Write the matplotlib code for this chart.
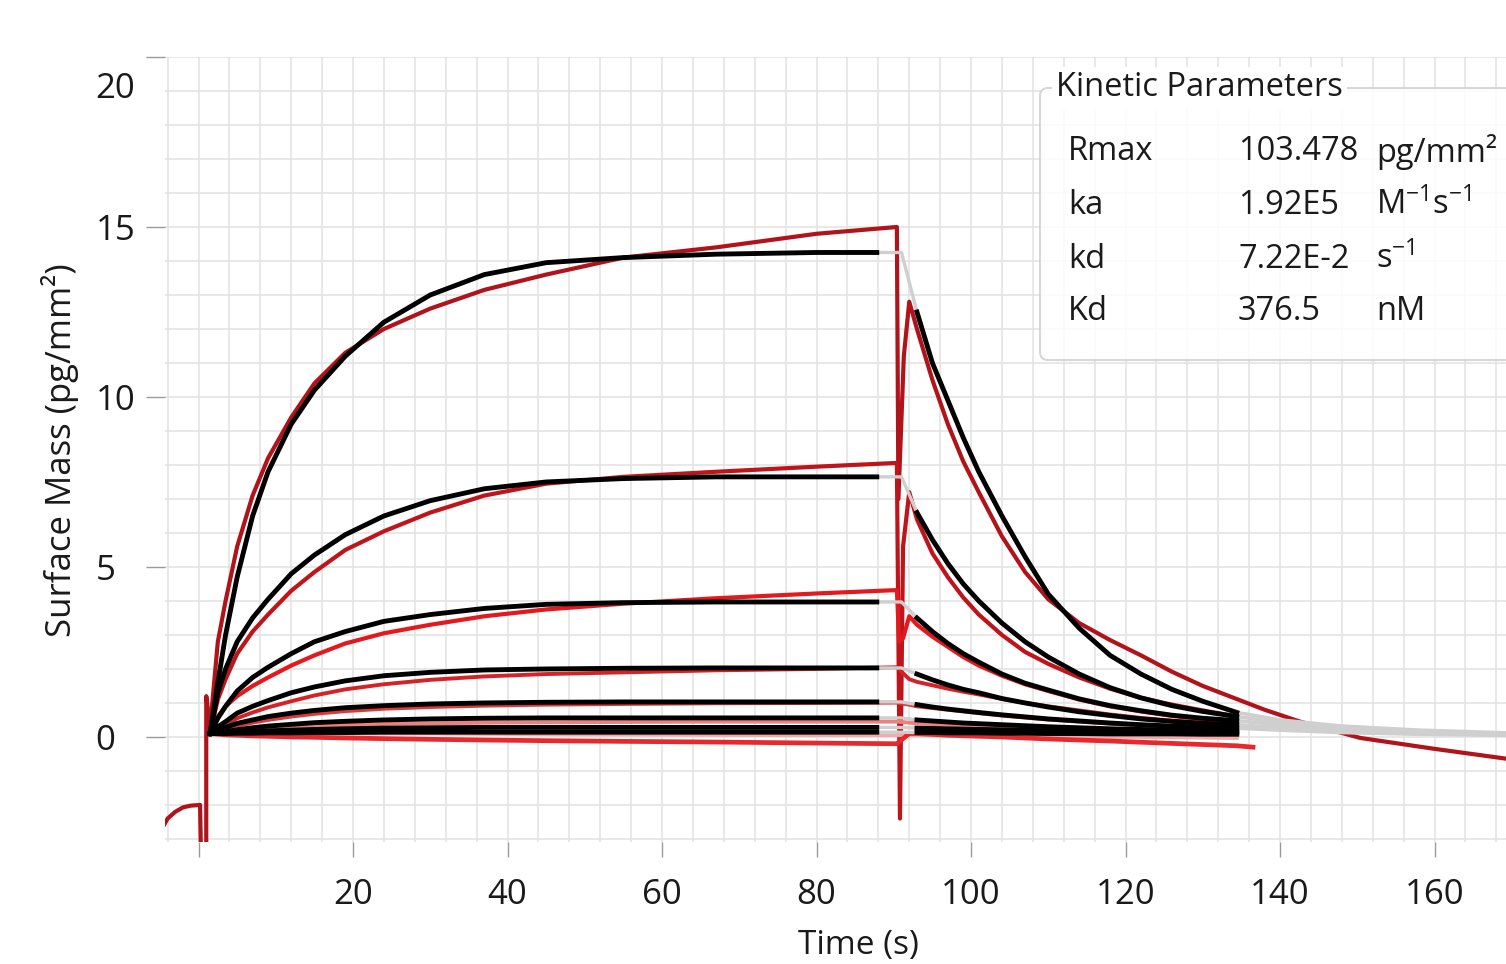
import matplotlib

matplotlib.use("Agg")

import matplotlib.pyplot as plt
from matplotlib.patches import FancyBboxPatch
from matplotlib.transforms import Affine2D, ScaledTranslation

plt.rcParams["font.family"] = ["Open Sans", "DejaVu Sans"]
plt.rcParams["mathtext.fontset"] = "custom"
plt.rcParams["mathtext.rm"] = "Open Sans"
plt.rcParams["mathtext.default"] = "regular"

# ---- fitted curves (black), association phase ----
fit_t_on = [1.5, 2.5, 3.5, 5, 7, 9, 12, 15, 19, 24, 30, 37, 45, 55, 67, 80, 87.8]
fit1_on = [0.1, 1.6, 3.0, 4.7, 6.5, 7.8, 9.2, 10.2, 11.2, 12.2, 13.0, 13.6, 13.95, 14.1, 14.2, 14.25, 14.25]
fit2_on = [0.1, 1.3, 2.0, 2.8, 3.5, 4.05, 4.8, 5.35, 5.95, 6.5, 6.95, 7.3, 7.5, 7.6, 7.65, 7.65, 7.65]
fit3_on = [0.1, 0.55, 0.9, 1.35, 1.75, 2.05, 2.45, 2.8, 3.1, 3.4, 3.6, 3.78, 3.9, 3.95, 3.97, 3.97, 3.97]
fit4_on = [0.1, 0.3, 0.45, 0.7, 0.9, 1.07, 1.3, 1.47, 1.65, 1.8, 1.9, 1.97, 2.0, 2.02, 2.03, 2.03, 2.03]
fit5_on = [0.1, 0.2, 0.28, 0.4, 0.5, 0.6, 0.7, 0.78, 0.86, 0.92, 0.97, 1.0, 1.02, 1.03, 1.03, 1.03, 1.03]
fit6_on = [0.1, 0.13, 0.16, 0.21, 0.27, 0.32, 0.37, 0.42, 0.46, 0.5, 0.53, 0.55, 0.56, 0.56, 0.56, 0.56, 0.56]
fit7_on = [0.1, 0.11, 0.12, 0.14, 0.16, 0.18, 0.2, 0.22, 0.24, 0.26, 0.27, 0.28, 0.28, 0.28, 0.28, 0.28, 0.28]
fit8_on = [0.1, 0.1, 0.1, 0.11, 0.11, 0.12, 0.12, 0.13, 0.13, 0.14, 0.14, 0.14, 0.14, 0.14, 0.14, 0.14, 0.14]

# ---- fitted curves (black), dissociation phase ----
fit_t_off = [93, 95, 97, 99, 101, 104, 107, 110, 114, 118, 122, 126, 130, 134.4]
fit1_off = [12.5, 11.0, 9.9, 8.8, 7.8, 6.5, 5.3, 4.2, 3.2, 2.4, 1.85, 1.4, 1.05, 0.72]
fit2_off = [6.6, 5.8, 5.1, 4.5, 4.0, 3.35, 2.8, 2.35, 1.85, 1.45, 1.15, 0.92, 0.75, 0.6]
fit3_off = [3.5, 3.1, 2.75, 2.45, 2.2, 1.85, 1.58, 1.38, 1.12, 0.92, 0.77, 0.64, 0.55, 0.48]
fit4_off = [1.85, 1.68, 1.53, 1.4, 1.3, 1.13, 1.0, 0.88, 0.74, 0.63, 0.53, 0.46, 0.4, 0.36]
fit5_off = [0.95, 0.88, 0.82, 0.77, 0.72, 0.65, 0.59, 0.53, 0.47, 0.41, 0.36, 0.32, 0.29, 0.26]
fit6_off = [0.5, 0.47, 0.44, 0.41, 0.39, 0.36, 0.33, 0.3, 0.27, 0.24, 0.22, 0.2, 0.19, 0.17]
fit7_off = [0.26, 0.25, 0.24, 0.23, 0.22, 0.21, 0.2, 0.18, 0.17, 0.16, 0.15, 0.14, 0.13, 0.12]
fit8_off = [0.13, 0.13, 0.12, 0.12, 0.12, 0.11, 0.11, 0.1, 0.1, 0.09, 0.09, 0.09, 0.08, 0.08]

# ---- model outside the fit windows (gray) ----
switch_t = 91.0
tail_t = [134.4, 140, 148, 158, 169.3]
tail1 = [0.72, 0.5, 0.32, 0.2, 0.12]
tail2 = [0.6, 0.42, 0.27, 0.16, 0.1]
tail3 = [0.48, 0.35, 0.23, 0.14, 0.08]
tail4 = [0.36, 0.27, 0.18, 0.11, 0.06]
tail5 = [0.26, 0.2, 0.13, 0.08, 0.05]

# ---- measured sensorgrams (reds) ----
pre_t = [-4.8, -4, -3, -2, -1, 0.2, 0.3, 1.0, 1.0, 1.5]
pre_y = [-2.72, -2.4, -2.2, -2.07, -2.02, -2.0, -3.3, -3.3, 1.2, 0.3]

raw_t_on = [1.5, 2.5, 3.5, 5, 7, 9, 12, 15, 19, 24, 30, 37, 45, 55, 67, 80, 90.4]
raw1_on = [0.3, 2.8, 4.0, 5.6, 7.1, 8.2, 9.4, 10.4, 11.3, 12.0, 12.6, 13.15, 13.6, 14.1, 14.4, 14.8, 15.0]
raw2_on = [0.15, 1.1, 1.7, 2.45, 3.1, 3.6, 4.3, 4.85, 5.5, 6.05, 6.6, 7.1, 7.45, 7.65, 7.8, 7.95, 8.06]
raw3_on = [0.15, 0.6, 0.9, 1.2, 1.5, 1.75, 2.1, 2.4, 2.75, 3.05, 3.3, 3.55, 3.75, 3.92, 4.08, 4.22, 4.32]
raw4_on = [0.1, 0.25, 0.38, 0.55, 0.72, 0.87, 1.05, 1.22, 1.4, 1.55, 1.68, 1.78, 1.85, 1.9, 1.96, 2.0, 2.05]
raw5_on = [0.1, 0.15, 0.22, 0.32, 0.42, 0.5, 0.6, 0.68, 0.76, 0.83, 0.88, 0.92, 0.95, 0.97, 0.99, 1.0, 1.01]
raw6_on = [0.1, 0.12, 0.15, 0.18, 0.22, 0.25, 0.29, 0.32, 0.35, 0.38, 0.4, 0.42, 0.43, 0.44, 0.45, 0.45, 0.45]
raw7_on = [0.1, 0.1, 0.1, 0.1, 0.1, 0.1, 0.1, 0.1, 0.1, 0.1, 0.1, 0.09, 0.08, 0.07, 0.06, 0.05, 0.05]
raw8_on = [0.1, 0.08, 0.06, 0.05, 0.03, 0.02, 0.0, -0.01, -0.03, -0.05, -0.07, -0.09, -0.11, -0.13, -0.15, -0.18, -0.2]

# injection-switch artefacts
raw1_sw_t = [90.6, 91.3]
raw1_sw_y = [7.0, 11.2]
raw2_sw_t = [90.8, 91.2]
raw2_sw_y = [-2.4, 5.6]
raw3_sw_t = [90.7, 91.2]
raw3_sw_y = [2.8, 2.9]

raw1_t_off = [92, 93, 95, 97, 99, 101, 104, 107, 110, 114, 118, 122, 126, 130, 134, 138, 142.6, 150.4, 160, 169.3]
raw1_off = [12.8, 12.0, 10.5, 9.2, 8.1, 7.2, 5.9, 4.85, 4.05, 3.35, 2.85, 2.4, 1.92, 1.5, 1.15, 0.8, 0.45, -0.03, -0.35, -0.64]
raw_t_off = [92, 93, 95, 97, 99, 101, 104, 107, 110, 114, 118, 122, 126, 130, 134.4]
raw2_off = [7.2, 6.4, 5.4, 4.7, 4.1, 3.6, 3.0, 2.5, 2.15, 1.75, 1.42, 1.15, 0.95, 0.78, 0.6]
raw3_off = [3.55, 3.3, 2.95, 2.65, 2.35, 2.1, 1.8, 1.55, 1.35, 1.1, 0.9, 0.75, 0.62, 0.52, 0.45]
raw4_off = [1.7, 1.62, 1.52, 1.42, 1.33, 1.25, 1.12, 1.0, 0.9, 0.78, 0.66, 0.56, 0.48, 0.42, 0.37]
raw5_off = [0.95, 0.9, 0.85, 0.8, 0.75, 0.7, 0.63, 0.57, 0.51, 0.45, 0.39, 0.34, 0.3, 0.27, 0.24]
raw6_off = [0.42, 0.4, 0.38, 0.36, 0.34, 0.32, 0.3, 0.27, 0.25, 0.22, 0.2, 0.18, 0.16, 0.14, 0.12]
raw7_off = [0.05, 0.05, 0.05, 0.04, 0.04, 0.03, 0.03, 0.02, 0.02, 0.01, 0.0, 0.0, -0.01, -0.02, -0.03]
raw8_t_off = [92, 93, 97, 101, 104, 110, 118, 126, 134.4, 136.5]
raw8_off = [0.1, 0.1, 0.05, 0.02, 0.0, -0.06, -0.12, -0.19, -0.26, -0.3]

raw_colors = ["#b0131a", "#c0141b", "#e3191e", "#d42226", "#db3a3a", "#ee8080", "#f3aaaa", "#e8282c"]

x_ticks = [0, 20, 40, 60, 80, 100, 120, 140, 160]
x_labels = ["", "20", "40", "60", "80", "100", "120", "140", "160"]
y_ticks = [0, 5, 10, 15, 20]

params = [("Rmax", "103.478", "pg/mm²"),
          ("ka", "1.92E5", r"M$^{-1}$s$^{-1}$"),
          ("kd", "7.22E-2", r"s$^{-1}$"),
          ("Kd", "376.5", "nM")]

W, H = 1506, 964
fig = plt.figure(figsize=(W / 100, H / 100), dpi=100)
pix = Affine2D().scale(1 / 100, -1 / 100).translate(0, H / 100) + fig.dpi_scale_trans

ax_l, ax_b, ax_t = 165, 842, 57
ax = fig.add_axes([ax_l / W, 1 - ax_b / H, 1 - ax_l / W, (ax_b - ax_t) / H])
ax.set_xlim(-4.34, 169.25)
ax.set_ylim(-3.09, 20)

for s in ax.spines.values():
    s.set_visible(False)

ax.set_xticks(x_ticks, x_labels)
ax.set_xticks(range(-4, 170, 4), minor=True)
ax.set_yticks(y_ticks, [str(v) for v in y_ticks])
ax.set_yticks(range(-3, 21), minor=True)
ax.grid(which="both", color="#e2e2e2", linewidth=1.1, zorder=0)
ax.set_axisbelow(True)
ax.tick_params(which="minor", length=0)
ax.tick_params(axis="x", which="major", direction="out", length=11, width=1,
               color="#9a9a9a", labelsize=25, pad=15, labelcolor="#1a1a1a")
ax.tick_params(axis="y", which="major", direction="out", length=14, width=1,
               color="#9a9a9a", labelsize=25, pad=36, labelcolor="#1a1a1a")
for lab in ax.get_yticklabels():
    lab.set_horizontalalignment("left")
ax.get_yticklabels()[-1].set_transform(
    ax.get_yticklabels()[-1].get_transform() + ScaledTranslation(0, -0.28, fig.dpi_scale_trans))

# measured data
lw_raw = 3.0
ax.plot(pre_t, pre_y, color=raw_colors[0], lw=lw_raw, zorder=2)
ax.plot(raw_t_on + raw1_sw_t + raw1_t_off, raw1_on + raw1_sw_y + raw1_off,
        color=raw_colors[0], lw=lw_raw, zorder=2)
ax.plot(raw_t_on + raw2_sw_t + raw_t_off, raw2_on + raw2_sw_y + raw2_off,
        color=raw_colors[1], lw=lw_raw, zorder=2)
ax.plot(raw_t_on + raw3_sw_t + raw_t_off, raw3_on + raw3_sw_y + raw3_off,
        color=raw_colors[2], lw=lw_raw, zorder=2)
for ys_on, ys_off, c in [(raw4_on, raw4_off, raw_colors[3]), (raw5_on, raw5_off, raw_colors[4]),
                         (raw6_on, raw6_off, raw_colors[5]), (raw7_on, raw7_off, raw_colors[6])]:
    ax.plot(raw_t_on + raw_t_off, ys_on + ys_off, color=c, lw=2.8, zorder=2)
ax.plot(raw_t_on + raw8_t_off, raw8_on + raw8_off, color=raw_colors[7], lw=3.4, zorder=2)

# model: gray where not fitted, black inside fit windows
fits_on = [fit1_on, fit2_on, fit3_on, fit4_on, fit5_on, fit6_on, fit7_on, fit8_on]
fits_off = [fit1_off, fit2_off, fit3_off, fit4_off, fit5_off, fit6_off, fit7_off, fit8_off]
tails = [tail1, tail2, tail3, tail4, tail5]
for on, off in zip(fits_on, fits_off):
    ax.plot([fit_t_on[-1], switch_t, fit_t_off[0]], [on[-1], on[-1], off[0]],
            color="#cfcfcf", lw=2.4, zorder=3, solid_capstyle="butt")
for tl in tails:
    ax.plot(tail_t, tl, color="#cfcfcf", lw=2.6, zorder=3)
for on, off in zip(fits_on, fits_off):
    ax.plot(fit_t_on, on, color="black", lw=3.5, zorder=4)
    ax.plot(fit_t_off, off, color="black", lw=3.5, zorder=4)

# axis titles
fig.text(60, 450, "Surface Mass (pg/mm²)", transform=pix, rotation=90,
         ha="center", va="center", fontsize=25, color="#1a1a1a")
fig.text(858, 962, "Time (s)", transform=pix, ha="center", va="bottom",
         fontsize=24, color="#1a1a1a")

# kinetic parameters panel
panel = FancyBboxPatch((1040, 88), 520, 272, boxstyle="round,pad=0,rounding_size=8",
                       transform=pix, facecolor="white", alpha=0.85,
                       edgecolor="#d0d0d0", linewidth=1.5, zorder=10)
fig.patches.append(panel)
fig.text(1056, 88, "Kinetic Parameters", transform=pix, ha="left", va="center",
         fontsize=23.5, color="#1a1a1a", zorder=11,
         bbox=dict(facecolor="white", edgecolor="none", pad=3))
row_y = [152, 205, 259, 312]
for (name, value, unit), y in zip(params, row_y):
    fig.text(1068, y, name, transform=pix, ha="left", va="center", fontsize=23.5, color="#1a1a1a", zorder=11)
    fig.text(1238, y, value, transform=pix, ha="left", va="center", fontsize=23.5, color="#1a1a1a", zorder=11)
    fig.text(1376, y, unit, transform=pix, ha="left", va="center", fontsize=23.5, color="#1a1a1a", zorder=11)

fig.savefig("out.png", dpi=100)
